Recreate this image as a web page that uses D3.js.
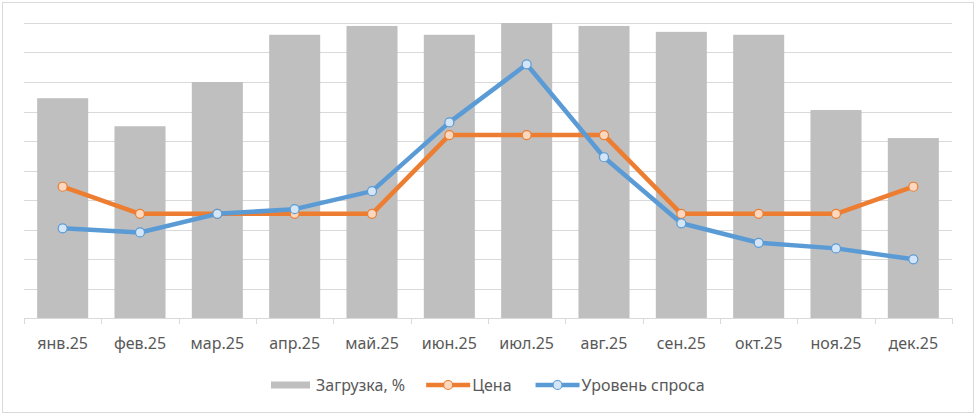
<!DOCTYPE html>
<html>
<head>
<meta charset="utf-8">
<script src="https://cdn.jsdelivr.net/npm/d3@7/dist/d3.min.js"></script>
<style>
  html, body { margin: 0; padding: 0; background: #fff; }
  text { font-family: "Noto Sans", "Open Sans", sans-serif; }
</style>
</head>
<body>
<script>
// месяцы и ряды
var months = ['янв.25', 'фев.25', 'мар.25', 'апр.25', 'май.25', 'июн.25',
  'июл.25', 'авг.25', 'сен.25', 'окт.25', 'ноя.25', 'дек.25']
var load = [74.5, 65, 80, 96, 99, 96, 100, 99, 97, 96, 70.5, 61]
var price = [44.5, 35.3, 35.3, 35.3, 35.3, 62, 62, 62, 35.3, 35.3, 35.3, 44.5]
var demand = [30.4, 29, 35.3, 36.9, 43, 66.3, 86, 54.5, 32.1, 25.5, 23.6, 19.9]
var gridTicks = d3.range(0, 101, 10)
var legendNames = ['Загрузка, %', 'Цена', 'Уровень спроса']

var W = 976, H = 415
var plotLeft = 24, plotRight = 952, plotTop = 23, plotBottom = 318

var svg = d3.select('body').append('svg')
  .attr('width', W)
  .attr('height', H)

// рамка вокруг диаграммы
svg.append('rect')
  .attr('x', 2.5).attr('y', 2.5)
  .attr('width', 971).attr('height', 410)
  .attr('fill', '#fff')
  .attr('stroke', '#d9d9d9')
  .attr('stroke-width', 1)

var x = d3.scaleBand().domain(months).range([plotLeft, plotRight]).paddingInner(0.34).paddingOuter(0.17)
var xPoint = function (m) { return x(m) + x.bandwidth() / 2 }
var y = d3.scaleLinear().domain([0, 100]).range([plotBottom, plotTop])

// сетка
svg.append('g').selectAll('line')
  .data(gridTicks.filter(function (t) { return t > 0 }))
  .enter().append('line')
  .attr('x1', plotLeft).attr('x2', plotRight)
  .attr('y1', function (d) { return Math.round(y(d)) + 0.5 })
  .attr('y2', function (d) { return Math.round(y(d)) + 0.5 })
  .attr('stroke', '#d9d9d9')
  .attr('stroke-width', 1)

// столбцы
svg.append('g').selectAll('rect')
  .data(load)
  .enter().append('rect')
  .attr('x', function (d, i) { return x(months[i]) })
  .attr('width', x.bandwidth())
  .attr('y', function (d) { return y(d) })
  .attr('height', function (d) { return y(0) - y(d) })
  .attr('fill', '#bfbfbf')

// ось X
var step = (plotRight - plotLeft) / months.length
var axis = svg.append('g')
axis.append('line')
  .attr('x1', plotLeft).attr('x2', plotRight)
  .attr('y1', Math.round(y(0)) + 0.5).attr('y2', Math.round(y(0)) + 0.5)
  .attr('stroke', '#d9d9d9')
axis.selectAll('.tick')
  .data(d3.range(months.length + 1))
  .enter().append('line')
  .attr('class', 'tick')
  .attr('x1', function (i) { return Math.round(plotLeft + i * step) + 0.5 })
  .attr('x2', function (i) { return Math.round(plotLeft + i * step) + 0.5 })
  .attr('y1', Math.round(y(0)))
  .attr('y2', Math.round(y(0)) + 6)
  .attr('stroke', '#d9d9d9')
axis.selectAll('text')
  .data(months)
  .enter().append('text')
  .attr('x', xPoint)
  .attr('y', 349)
  .attr('text-anchor', 'middle')
  .attr('font-size', '16px')
  .attr('fill', '#595959')
  .text(function (d) { return d })

// линии
var series = [
  { values: price, color: '#ed7d31', fill: '#fbd8bf' },
  { values: demand, color: '#5b9bd5', fill: '#d3e5f6' }
]
var line = d3.line()
  .x(function (d, i) { return xPoint(months[i]) })
  .y(function (d) { return y(d) })

series.forEach(function (s) {
  svg.append('path')
    .datum(s.values)
    .attr('d', line)
    .attr('fill', 'none')
    .attr('stroke', s.color)
    .attr('stroke-width', 4.5)
    .attr('stroke-linejoin', 'round')
  svg.append('g').selectAll('circle')
    .data(s.values)
    .enter().append('circle')
    .attr('cx', function (d, i) { return xPoint(months[i]) })
    .attr('cy', function (d) { return y(d) })
    .attr('r', 4.5)
    .attr('fill', s.fill)
    .attr('stroke', s.color)
    .attr('stroke-width', 1.2)
})

// легенда
var legend = svg.append('g')
var ly = 385
var lx = 271
legend.append('rect')
  .attr('x', lx).attr('y', ly - 3.5)
  .attr('width', 39).attr('height', 7)
  .attr('fill', '#bfbfbf')
var t0 = legend.append('text')
  .attr('x', lx + 45).attr('y', ly + 5.5)
  .attr('font-size', '16px').attr('fill', '#595959')
  .text(legendNames[0])
lx = lx + 45 + t0.node().getComputedTextLength() + 21

series.forEach(function (s, k) {
  legend.append('line')
    .attr('x1', lx).attr('x2', lx + 44)
    .attr('y1', ly).attr('y2', ly)
    .attr('stroke', s.color).attr('stroke-width', 4.5)
  legend.append('circle')
    .attr('cx', lx + 22).attr('cy', ly).attr('r', 4.5)
    .attr('fill', s.fill).attr('stroke', s.color).attr('stroke-width', 1.2)
  var t = legend.append('text')
    .attr('x', lx + 46).attr('y', ly + 5.5)
    .attr('font-size', '16px').attr('fill', '#595959')
    .text(legendNames[k + 1])
  lx = lx + 46 + t.node().getComputedTextLength() + 24
})
</script>
</body>
</html>
